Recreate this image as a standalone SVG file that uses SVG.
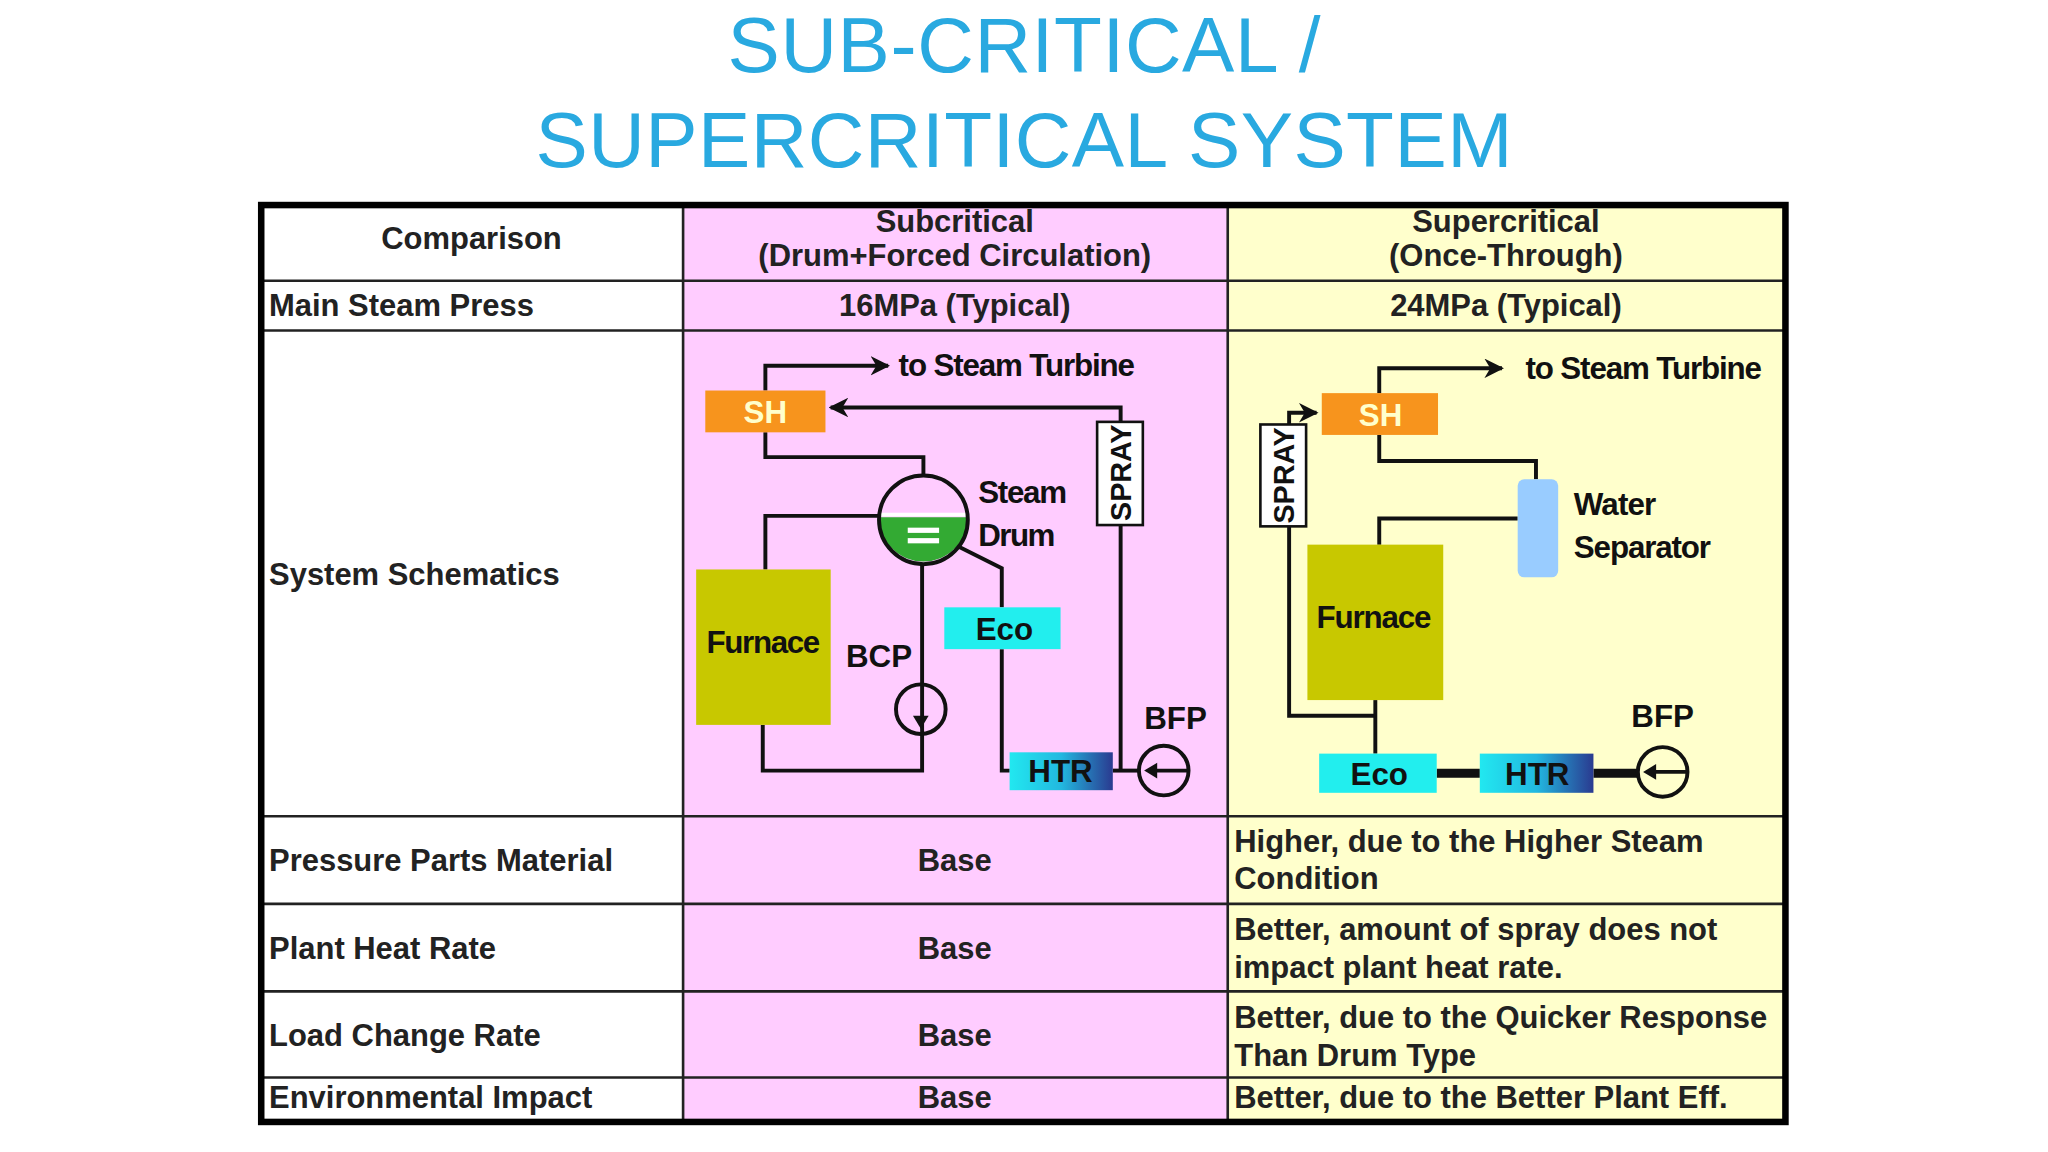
<svg xmlns="http://www.w3.org/2000/svg" width="2048" height="1152" viewBox="0 0 2048 1152">
<defs>
<style>
.t{font-family:"Liberation Sans",Arial,sans-serif;font-weight:bold;font-size:23.7px;fill:#222}
.c{text-anchor:middle}
.s{font-family:"Liberation Sans",Arial,sans-serif;font-weight:bold;font-size:24px;fill:#111}
.ln{fill:none;stroke:#111;stroke-width:3}
.grid{stroke:#222;stroke-width:2}
</style>
<linearGradient id="htr" x1="0" x2="1" y1="0" y2="0"><stop offset="0" stop-color="#22e8f0"/><stop offset="0.5" stop-color="#22b8e0"/><stop offset="1" stop-color="#2a3a90"/></linearGradient>
<marker id="ar" viewBox="0 0 10 10" refX="9" refY="5" markerWidth="5" markerHeight="5" orient="auto"><path d="M0,0 L10,5 L0,10 L3,5 z" fill="#111"/></marker>
</defs>
<rect width="2048" height="1152" fill="#fff"/>
<g transform="scale(1.3061)">
<g id="title" font-family="'Liberation Sans',Arial,sans-serif" font-size="60" fill="#29a9e0" text-anchor="middle">
<text x="784" y="55" textLength="454">SUB-CRITICAL /</text>
<text x="784" y="128" textLength="748">SUPERCRITICAL SYSTEM</text>
</g>
<g id="table">
<rect x="523" y="157" width="417" height="702" fill="#ffccff"/>
<rect x="940" y="157" width="427" height="702" fill="#ffffcc"/>
<g class="grid">
<line x1="523" y1="157" x2="523" y2="859"/><line x1="940" y1="157" x2="940" y2="859"/>
<line x1="200" y1="215" x2="1367" y2="215"/><line x1="200" y1="253" x2="1367" y2="253"/>
<line x1="200" y1="625" x2="1367" y2="625"/><line x1="200" y1="692" x2="1367" y2="692"/>
<line x1="200" y1="759" x2="1367" y2="759"/><line x1="200" y1="825" x2="1367" y2="825"/>
</g>
<rect x="200" y="157" width="1167" height="702" fill="none" stroke="#000" stroke-width="5"/>
<text class="t c" x="361" y="191">Comparison</text>
<text class="t c" x="731" y="178">Subcritical</text>
<text class="t c" x="731" y="204">(Drum+Forced Circulation)</text>
<text class="t c" x="1153" y="178">Supercritical</text>
<text class="t c" x="1153" y="204">(Once-Through)</text>
<text class="t" x="206" y="242">Main Steam Press</text>
<text class="t c" x="731" y="242">16MPa (Typical)</text>
<text class="t c" x="1153" y="242">24MPa (Typical)</text>
<text class="t" x="206" y="448">System Schematics</text>
<text class="t" x="206" y="667">Pressure Parts Material</text>
<text class="t c" x="731" y="667">Base</text>
<text class="t" x="945" y="652">Higher, due to the Higher Steam</text>
<text class="t" x="945" y="681">Condition</text>
<text class="t" x="206" y="734">Plant Heat Rate</text>
<text class="t c" x="731" y="734">Base</text>
<text class="t" x="945" y="720">Better, amount of spray does not</text>
<text class="t" x="945" y="749">impact plant heat rate.</text>
<text class="t" x="206" y="801">Load Change Rate</text>
<text class="t c" x="731" y="801">Base</text>
<text class="t" x="945" y="787">Better, due to the Quicker Response</text>
<text class="t" x="945" y="816">Than Drum Type</text>
<text class="t" x="206" y="848">Environmental Impact</text>
<text class="t c" x="731" y="848">Base</text>
<text class="t" x="945" y="848">Better, due to the Better Plant Eff.</text>
</g>
<g id="connectors">
<path class="ln" d="M586,299 V280 H680" marker-end="url(#ar)"/>
<path class="ln" d="M858,323 V312 H636" marker-end="url(#ar)"/>
<path class="ln" d="M858,402 V590"/>
<path class="ln" d="M586,331 V350 H707 V364"/>
<path class="ln" d="M673,395 H586 V436"/>
<path class="ln" d="M706,432 V590 H584 V555"/>
<path class="ln" d="M733,418 L767,435 V465"/>
<path class="ln" d="M767,497 V590 H773"/>
<path class="ln" d="M852,590 H872"/>
<path class="ln" d="M1056,301 V282 H1150" marker-end="url(#ar)"/>
<path class="ln" d="M1056,333 V353 H1176 V367"/>
<path class="ln" d="M1162,397 H1056 V417"/>
<path class="ln" d="M1053,536 V577"/>
<path class="ln" d="M987,403 V548 H1053"/>
<path class="ln" d="M987,325 V316 H1008" marker-end="url(#ar)"/>
<path fill="none" stroke="#111" stroke-width="7" d="M1100,592 H1133 M1220,592 H1254"/>
</g>
<g id="sub-SH"><rect x="540" y="299" width="92" height="32" fill="#f7941d"/><text class="s c" x="586" y="324" style="fill:#ffffcc">SH</text></g>
<text class="s" x="688" y="288" textLength="181">to Steam Turbine</text>
<g id="sub-spray"><rect x="840" y="323" width="35" height="79" fill="#fff" stroke="#111" stroke-width="2"/><text class="s c" transform="translate(866,362) rotate(-90)" style="font-size:22px">SPRAY</text></g>
<g id="sub-drum">
<path d="M673,396 A34,34 0 0 0 741,396 Z" fill="#33aa33"/>
<line x1="673" y1="394" x2="741" y2="394" stroke="#fff" stroke-width="3"/>
<rect x="695" y="404" width="24" height="4" fill="#fff"/><rect x="695" y="412" width="24" height="4" fill="#fff"/>
<circle cx="707" cy="398" r="34" fill="none" stroke="#111" stroke-width="3"/>
<text class="s" x="749" y="385" textLength="68">Steam</text><text class="s" x="749" y="418" textLength="59">Drum</text>
</g>
<g id="sub-furnace"><rect x="533" y="436" width="103" height="119" fill="#c8c800"/><text class="s" x="541" y="500" textLength="87">Furnace</text></g>
<g id="sub-bcp"><circle cx="705" cy="543" r="19" fill="none" stroke="#111" stroke-width="3"/><path d="M699,548 L705,558 L711,548 Z" fill="#111"/><text class="s c" x="673" y="511">BCP</text></g>
<g id="sub-eco"><rect x="723" y="465" width="89" height="32" fill="#22eeee"/><text class="s c" x="769" y="490">Eco</text></g>
<g id="sub-htr"><rect x="773" y="576" width="79" height="29" fill="url(#htr)"/><text class="s c" x="812" y="599">HTR</text></g>
<g id="sub-bfp"><circle cx="891" cy="590" r="19" fill="#ffccff" stroke="#111" stroke-width="3"/><line x1="910" y1="590" x2="880" y2="590" class="ln"/><path d="M876,590 L886,584 L886,596 Z" fill="#111"/><text class="s c" x="900" y="558">BFP</text></g>

<g id="sup-SH"><rect x="1012" y="301" width="89" height="32" fill="#f7941d"/><text class="s c" x="1057" y="326" style="fill:#ffffcc">SH</text></g>
<text class="s" x="1168" y="290" textLength="181">to Steam Turbine</text>
<g id="sup-spray"><rect x="965" y="325" width="35" height="78" fill="#fff" stroke="#111" stroke-width="2"/><text class="s c" transform="translate(991,364) rotate(-90)" style="font-size:22px">SPRAY</text></g>
<g id="sup-sep"><rect x="1162" y="367" width="31" height="75" rx="5" fill="#99ccff"/><text class="s" x="1205" y="394" textLength="63">Water</text><text class="s" x="1205" y="427" textLength="105">Separator</text></g>
<g id="sup-furnace"><rect x="1001" y="417" width="104" height="119" fill="#c8c800"/><text class="s" x="1008" y="481" textLength="88">Furnace</text></g>
<g id="sup-eco"><rect x="1010" y="577" width="90" height="30" fill="#22eeee"/><text class="s c" x="1056" y="601">Eco</text></g>
<g id="sup-htr"><rect x="1133" y="577" width="87" height="30" fill="url(#htr)"/><text class="s c" x="1177" y="601">HTR</text></g>
<g id="sup-bfp"><circle cx="1273" cy="591" r="19" fill="#ffffcc" stroke="#111" stroke-width="3"/><line x1="1292" y1="591" x2="1262" y2="591" class="ln"/><path d="M1258,591 L1268,585 L1268,597 Z" fill="#111"/><text class="s c" x="1273" y="557">BFP</text></g>
</g>
</svg>
